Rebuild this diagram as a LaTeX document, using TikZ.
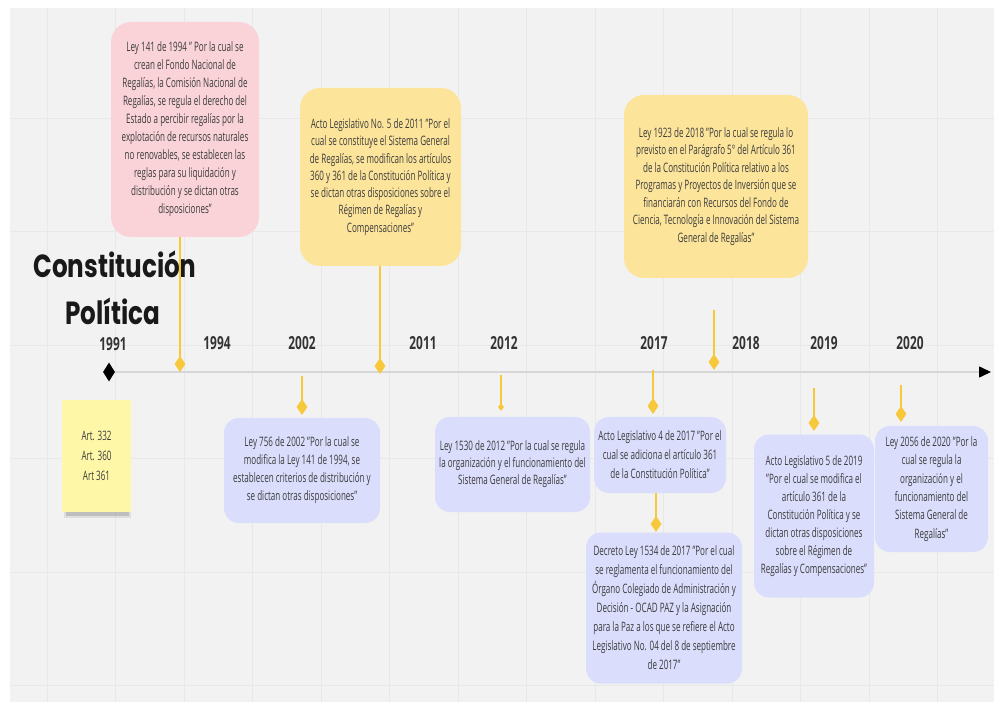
\documentclass[tikz,border=0pt]{standalone}
\usepackage{fontspec}
\setmainfont{Open Sans}[FakeStretch=0.62]
\newfontfamily\titlefont{Poppins}[FakeStretch=0.77]
\newfontfamily\yearfont{Open Sans}[FakeStretch=0.66]
\usetikzlibrary{shapes.geometric,arrows.meta}
\definecolor{bgc}{RGB}{242,242,242}
\definecolor{gridc}{RGB}{232,232,232}
\definecolor{pinkc}{RGB}{249,211,216}
\definecolor{yelc}{RGB}{252,228,155}
\definecolor{lavc}{RGB}{218,221,252}
\definecolor{notec}{RGB}{255,247,168}
\definecolor{gold}{RGB}{247,200,58}
\definecolor{txtc}{RGB}{60,60,60}
\definecolor{axisc}{RGB}{214,214,214}
\tikzset{
  txt/.style={font=\fontsize{13}{18}\selectfont, text=txtc, align=center, inner sep=0pt},
  pinkbox/.style={txt, fill=pinkc, rounded corners=20pt},
  yelbox/.style={txt, fill=yelc, rounded corners=20pt},
  lavbox/.style={txt, fill=lavc, rounded corners=15pt},
  notebox/.style={txt, fill=notec, font=\fontsize{13}{20}\selectfont},
  gdia/.style={diamond, fill=gold, inner sep=0pt, minimum width=11pt, minimum height=16pt},
  conn/.style={draw=gold, line width=1.4pt},
  yearlbl/.style={font=\yearfont\bfseries\fontsize{18}{18}\selectfont, text=black!80, anchor=base, inner sep=0pt},
  titlelbl/.style={font=\titlefont\bfseries\fontsize{32}{32}\selectfont, text=black!90, anchor=base, inner sep=0pt},
}
\begin{document}
\begin{tikzpicture}[x=1pt,y=-1pt]
\useasboundingbox (0,0) rectangle (994,711);
\fill[white] (0,0) rectangle (994,711);
\fill[bgc] (10,8) rectangle (994,702);
\foreach \i in {0,...,13} {\draw[gridc, line width=0.6pt] ({47+68.5*\i},8) -- ({47+68.5*\i},702);}
\foreach \j in {118,231.5,345,458.5,572,685.5} {\draw[gridc, line width=0.6pt] (10,\j) -- (994,\j);}

% title
\node[titlelbl] (t1) at (115,278) {Constitución};
\node[titlelbl] (t2) at (113,325) {Política};

% years
\node[yearlbl] (y1991) at (113,351) {1991};
\node[yearlbl] (y1994) at (217,350) {1994};
\node[yearlbl] (y2002) at (302,350) {2002};
\node[yearlbl] (y2011) at (423,350) {2011};
\node[yearlbl] (y2012) at (504,350) {2012};
\node[yearlbl] (y2017) at (654,350) {2017};
\node[yearlbl] (y2018) at (746,350) {2018};
\node[yearlbl] (y2019) at (824,350) {2019};
\node[yearlbl] (y2020) at (910,350) {2020};

% axis
\node[diamond, fill=black, inner sep=0pt, minimum width=12pt, minimum height=19pt] (d1991) at (109,372) {};
\coordinate (axend) at (991,372);
\draw[axisc, line width=1.5pt, -{Triangle[black,length=12pt,width=11pt]}] (d1991.east) -- (axend);

% boxes
\node[pinkbox, minimum width=148pt, minimum height=215pt] (b1994) at (185,129.5) {Ley 141 de 1994 " Por la cual se\\crean el Fondo Nacional de\\Regalías, la Comisión Nacional de\\Regalías, se regula el derecho del\\Estado a percibir regalías por la\\explotación de recursos naturales\\no renovables, se establecen las\\reglas para su liquidación y\\distribución y se dictan otras\\disposiciones"};
\node[yelbox, minimum width=161pt, minimum height=178pt, font=\fontsize{13}{17.3}\selectfont] (b2011) at (380.5,177) {Acto Legislativo No. 5 de 2011 "Por el\\cual se constituye el Sistema General\\de Regalías, se modifican los artículos\\360 y 361 de la Constitución Política y\\se dictan otras disposiciones sobre el\\Régimen de Regalías y\\Compensaciones"};
\node[yelbox, minimum width=184pt, minimum height=183pt, font=\fontsize{13}{17.5}\selectfont] (b2018) at (716,186.5) {Ley 1923 de 2018 "Por la cual se regula lo\\previsto en el Parágrafo 5° del Artículo 361\\de la Constitución Política relativo a los\\Programas y Proyectos de Inversión que se\\financiarán con Recursos del Fondo de\\Ciencia, Tecnología e Innovación del Sistema\\General de Regalías"};
\fill[black!45, opacity=0.45] (66,509) rectangle (129,516);
\fill[black!30, opacity=0.3] (64,512) rectangle (131,518);
\node[notebox, minimum width=69pt, minimum height=112pt] (art) at (96.5,456) {Art. 332\\Art. 360\\Art 361};
\node[lavbox, minimum width=156pt, minimum height=105pt] (b2002) at (302,470.5) {Ley 756 de 2002 "Por la cual se\\modifica la Ley 141 de 1994, se\\establecen criterios de distribución y\\se dictan otras disposiciones"};
\node[lavbox, minimum width=155pt, minimum height=95pt, font=\fontsize{13}{17}\selectfont] (b2012) at (512.5,464.5) {Ley 1530 de 2012 "Por la cual se regula\\la organización y el funcionamiento del\\Sistema General de Regalías"};
\node[lavbox, minimum width=132pt, minimum height=76pt, font=\fontsize{13}{19}\selectfont] (b2017a) at (660,455) {Acto Legislativo 4 de 2017 "Por el\\cual se adiciona el artículo 361\\de la Constitución Política"};
\node[lavbox, minimum width=156pt, minimum height=151pt, font=\fontsize{13}{19}\selectfont] (b2017b) at (664,608) {Decreto Ley 1534 de 2017 "Por el cual\\se reglamenta el funcionamiento del\\Órgano Colegiado de Administración y\\Decisión - OCAD PAZ y la Asignación\\para la Paz a los que se refiere el Acto\\Legislativo No. 04 del 8 de septiembre\\de 2017"};
\node[lavbox, minimum width=120pt, minimum height=163pt] (b2019) at (814,516) {Acto Legislativo 5 de 2019\\"Por el cual se modifica el\\artículo 361 de la\\Constitución Política y se\\dictan otras disposiciones\\sobre el Régimen de\\Regalías y Compensaciones"};
\node[lavbox, minimum width=113pt, minimum height=126pt, font=\fontsize{13}{18.3}\selectfont] (b2020) at (931.5,489) {Ley 2056 de 2020 "Por la\\cual se regula la\\organización y el\\funcionamiento del\\Sistema General de\\Regalías"};

% diamonds and connector ends
\coordinate (d1994) at (180,364);
\coordinate (d2011) at (380,366);
\coordinate (d2018) at (714,362);
\coordinate (c2018) at (714,310);
\coordinate (d2002) at (302,407);
\coordinate (c2002) at (302,376);
\coordinate (d2012) at (501,407);
\coordinate (c2012) at (501,375);
\coordinate (d2017a) at (653,406);
\coordinate (c2017a) at (653,370);
\coordinate (d2017b) at (656,524);
\coordinate (d2019) at (814,423);
\coordinate (c2019) at (814,388);
\coordinate (d2020) at (901,414);
\coordinate (c2020) at (901,385);

\draw[conn] (d1994 |- b1994.south) -- (d1994);
\draw[conn] (d2011 |- b2011.south) -- (d2011);
\draw[conn] (c2018) -- (d2018);
\draw[conn] (c2002) -- (d2002);
\draw[conn] (c2012) -- (d2012);
\draw[conn] (c2017a) -- (d2017a);
\draw[conn] (d2017b |- b2017a.south) -- (d2017b);
\draw[conn] (c2019) -- (d2019);
\draw[conn] (c2020) -- (d2020);

\node[gdia] (g1994) at (d1994) {};
\node[gdia] (g2011) at (d2011) {};
\node[gdia] (g2018) at (d2018) {};
\node[gdia] (g2002) at (d2002) {};
\node[gdia, minimum width=6pt, minimum height=8pt] (g2012) at (d2012) {};
\node[gdia] (g2017a) at (d2017a) {};
\node[gdia] (g2017b) at (d2017b) {};
\node[gdia] (g2019) at (d2019) {};
\node[gdia] (g2020) at (d2020) {};
\end{tikzpicture}
\end{document}
